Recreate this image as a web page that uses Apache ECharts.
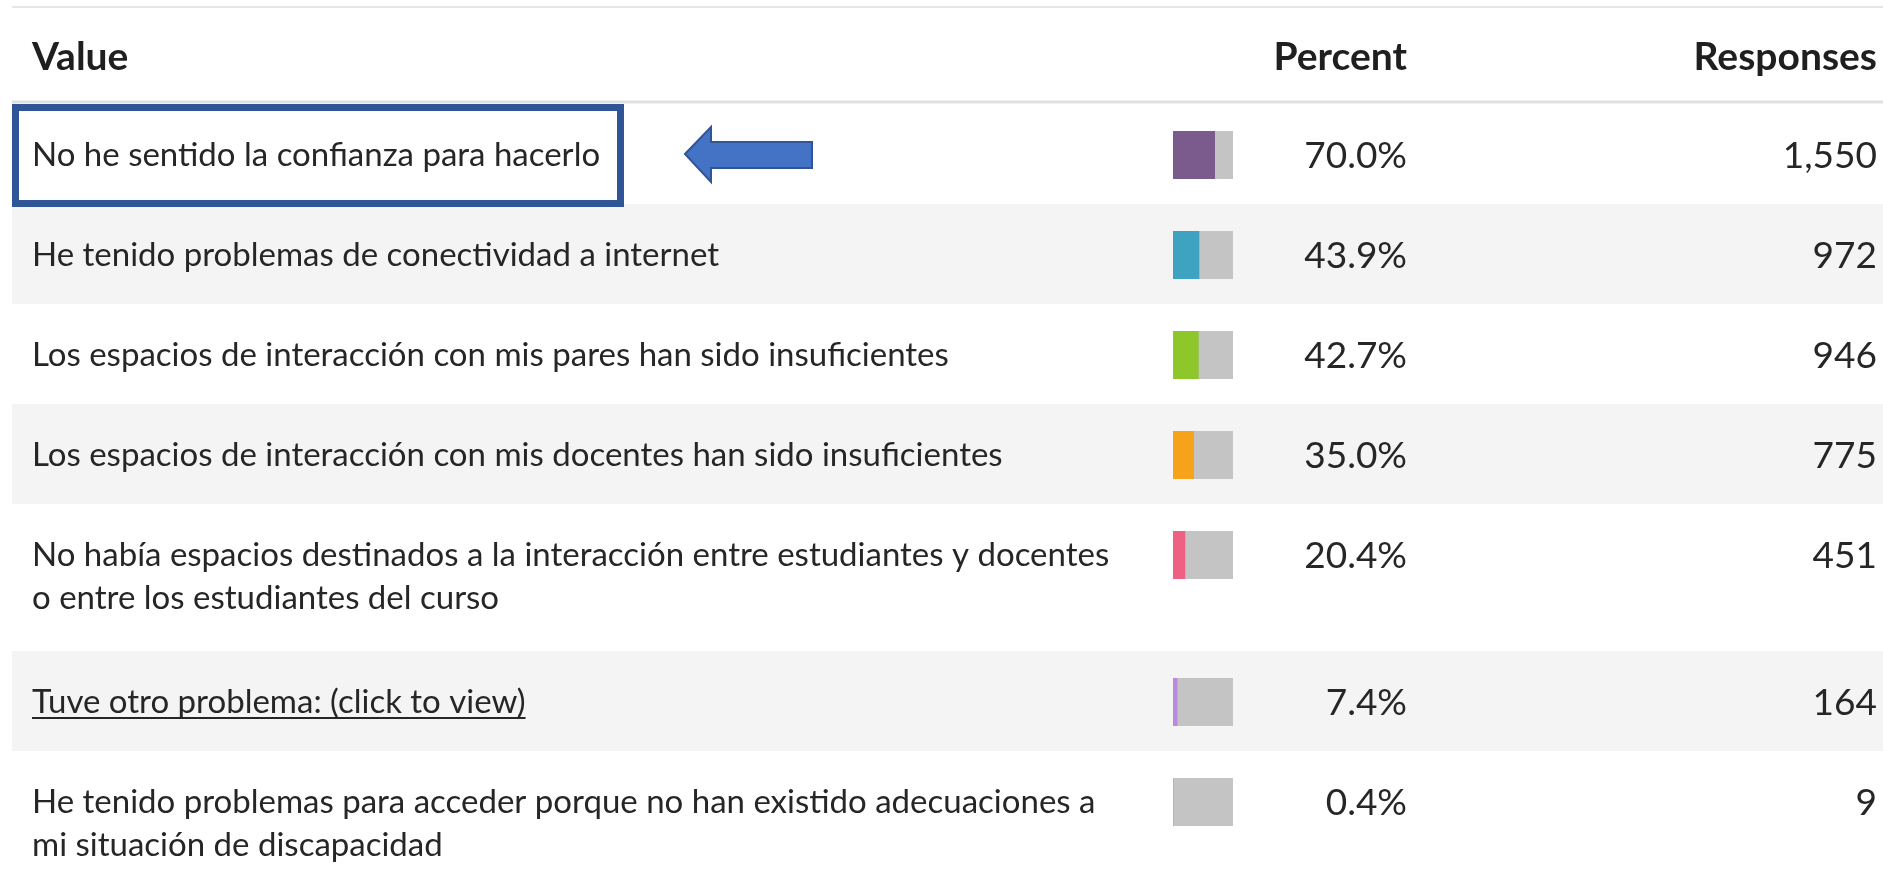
<!DOCTYPE html>
<html>
<head>
<meta charset="utf-8">
<script src="https://cdn.jsdelivr.net/npm/echarts@6/dist/echarts.min.js"></script>
<style>
  html, body { margin: 0; padding: 0; background: #fff; }
  #main { width: 1883px; height: 890px; }
</style>
</head>
<body>
<div id="main"></div>
<script type="text/javascript">
// datos de la tabla
var labels = [
    'No he sentido la confianza para hacerlo',
    'He tenido problemas de conectividad a internet',
    'Los espacios de interacción con mis pares han sido insuficientes',
    'Los espacios de interacción con mis docentes han sido insuficientes',
    'No había espacios destinados a la interacción entre estudiantes y docentes\no entre los estudiantes del curso',
    'Tuve otro problema: (click to view)',
    'He tenido problemas para acceder porque no han existido adecuaciones a\nmi situación de discapacidad'
];
var percents = [70.0, 43.9, 42.7, 35.0, 20.4, 7.4, 0.4];
var responses = [1550, 972, 946, 775, 451, 164, 9];
var colors = ['#7b5b8e', '#3ea3c1', '#8dc72a', '#f7a21b', '#ee6183', '#b98ae0', '#5b9bd5'];

var FONT = 'Lato, "Noto Sans", sans-serif';
var TXT = '#262626';

var myChart = echarts.init(document.getElementById('main'));

var graphics = [];
var grids = [], xAxes = [], yAxes = [], series = [];

// lineas de cabecera
graphics.push({ type: 'line', z: 0, shape: { x1: 12, y1: 7, x2: 1883, y2: 7 }, style: { stroke: '#e6e6e6', lineWidth: 2 } });
graphics.push({ type: 'line', z: 0, shape: { x1: 12, y1: 102, x2: 1883, y2: 102 }, style: { stroke: '#e0e0e0', lineWidth: 3 } });
graphics.push({ type: 'text', z: 5, style: { text: 'Value', x: 32, y: 57, font: 'bold 39px ' + FONT, fill: '#1f1f1f', verticalAlign: 'middle' } });
graphics.push({ type: 'text', z: 5, style: { text: 'Percent', x: 1407, y: 57, font: 'bold 39px ' + FONT, fill: '#1f1f1f', align: 'right', verticalAlign: 'middle' } });
graphics.push({ type: 'text', z: 5, style: { text: 'Responses', x: 1877, y: 57, font: 'bold 39px ' + FONT, fill: '#1f1f1f', align: 'right', verticalAlign: 'middle' } });

var ctx = document.createElement('canvas').getContext('2d');

var rowY = 104;
for (var i = 0; i < labels.length; i++) {
    var nLines = labels[i].split('\n').length;
    var h = 100 + 47 * (nLines - 1);
    var cy = rowY + 51;
    if (i % 2 == 1) {
        graphics.push({ type: 'rect', z: 0, shape: { x: 12, y: rowY, width: 1871, height: h }, style: { fill: '#f4f4f4' } });
    }
    graphics.push({ type: 'text', z: 5, style: {
        text: labels[i], x: 32, y: cy - 21, font: '33px ' + FONT, fill: TXT,
        lineHeight: 43, verticalAlign: 'top'
    } });
    if (i == 5) {
        ctx.font = '33px Lato';
        var w = ctx.measureText(labels[i]).width;
        graphics.push({ type: 'line', z: 5, shape: { x1: 32, y1: cy + 16, x2: 32 + w, y2: cy + 16 }, style: { stroke: TXT, lineWidth: 2 } });
    }
    graphics.push({ type: 'text', z: 5, style: { text: percents[i].toFixed(1) + '%', x: 1407, y: cy + 1, font: '37px ' + FONT, fill: TXT, align: 'right', verticalAlign: 'middle' } });
    graphics.push({ type: 'text', z: 5, style: { text: responses[i].toLocaleString('en-US'), x: 1877, y: cy + 1, font: '37px ' + FONT, fill: TXT, align: 'right', verticalAlign: 'middle' } });

    // una barra por fila
    grids.push({ left: 1173, width: 60, top: cy - 24, height: 48 });
    xAxes.push({ type: 'value', gridIndex: i, min: 0, max: 100, show: false });
    yAxes.push({ type: 'category', gridIndex: i, data: [labels[i]], show: false });
    series.push({
        type: 'bar', xAxisIndex: i, yAxisIndex: i,
        data: [percents[i]], barWidth: '100%',
        showBackground: true, backgroundStyle: { color: '#c4c4c4' },
        itemStyle: { color: colors[i] },
        silent: true
    });
    rowY += h;
}

// recuadro y flecha
graphics.push({ type: 'rect', z: 10, shape: { x: 15.5, y: 107.5, width: 605, height: 96 }, style: { fill: 'none', stroke: '#2f5597', lineWidth: 7 } });
graphics.push({ type: 'polygon', z: 10, shape: { points: [[685, 154], [711, 127], [711, 142], [812, 142], [812, 168], [711, 168], [711, 182]] }, style: { fill: '#4472c4', stroke: '#2f5597', lineWidth: 2 } });

var options = {
    backgroundColor: '#fff',
    animation: false,
    grid: grids,
    xAxis: xAxes,
    yAxis: yAxes,
    series: series,
    graphic: { elements: graphics }
};
myChart.setOption(options);
</script>
</body>
</html>
